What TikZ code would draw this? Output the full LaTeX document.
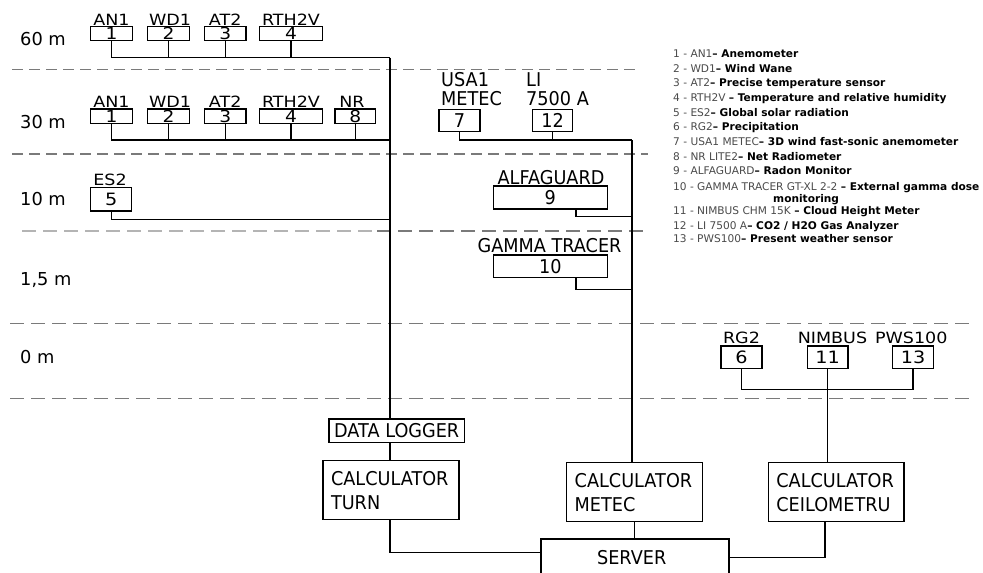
\documentclass[tikz,border=0pt]{standalone}
\usepackage{fontspec}
\setmainfont{DejaVu Sans}
\newfontfamily\nf{DejaVu Sans}[FakeStretch=0.93]
\newfontfamily\wf{DejaVu Sans}[FakeStretch=1.13]
\definecolor{lg}{HTML}{4A4A4A}
\definecolor{dashgray}{HTML}{7A7A7A}
\definecolor{dashlight}{HTML}{B4B4B4}
\begin{document}
\begin{tikzpicture}[x=1pt,y=-1pt,
  box/.style={draw, line width=1.3pt, inner sep=0pt},
  wire/.style={line width=1.3pt},
  sepa/.style={draw=dashgray, line width=1.3pt, dash pattern=on 11pt off 6pt},
  sepb/.style={draw=dashgray, line width=1.3pt, dash pattern=on 14pt off 7pt},
  lvl/.style={anchor=base west, inner sep=0pt, font=\fontsize{17.8}{20}\selectfont},
  tl/.style={anchor=base, inner sep=0pt, font=\wf\fontsize{15.5}{17}\selectfont},
  tbox/.style={box, font=\wf\fontsize{16.5}{17}\selectfont},
  gbox/.style={box, font=\wf\fontsize{17}{19}\selectfont},
  rl/.style={inner sep=0pt, font=\nf\fontsize{19}{22}\selectfont},
  rbox/.style={box, font=\nf\fontsize{19}{22}\selectfont},
  calcbox/.style={box, font=\nf\fontsize{19}{24}\selectfont, align=left, inner xsep=8pt, inner ysep=0pt, minimum height=59pt},
  leg/.style={anchor=base west, inner sep=0pt, font=\fontsize{10.6}{12}\selectfont}
]
\useasboundingbox (0,0) rectangle (983,573);
\clip (0,0) rectangle (983,573);

% separators
\draw[sepa] (12,69.3) -- (640,69.3);
\draw[sepa] (12,154) -- (648,154);
\draw[sepb, draw=dashlight] (22,231) -- (377,231);
\draw[sepb] (377,231) -- (648,231);
\draw[sepb] (10,323.5) -- (975,323.5);
\draw[sepb] (10,398.5) -- (975,398.5);

% level labels
\node[lvl] (l60) at (20,45) {60 m};
\node[lvl] (l30) at (20,128) {30 m};
\node[lvl] (l10) at (20,205.7) {10 m};
\node[lvl] (l15) at (20,285) {1,5 m};
\node[lvl] (l0) at (20,363) {0 m};

% 60 m row
\node[tbox, minimum width=41.6pt, minimum height=14pt] (a1) at (111.5,33.7) {1};
\node[tbox, minimum width=41.6pt, minimum height=14pt] (a2) at (168.5,33.7) {2};
\node[tbox, minimum width=41.7pt, minimum height=14pt] (a3) at (225.2,33.7) {3};
\node[tbox, minimum width=63.4pt, minimum height=14pt] (a4) at (291,33.7) {4};
\node[tl] (ta1) at (111.5,25) {AN1};
\node[tl] (ta2) at (170,25) {WD1};
\node[tl] (ta3) at (225.2,25) {AT2};
\node[tl] (ta4) at (291,25) {RTH2V};

% 30 m row
\node[tbox, minimum width=41.6pt, minimum height=14.3pt] (b1) at (111.5,116.2) {1};
\node[tbox, minimum width=41.6pt, minimum height=14.3pt] (b2) at (168.5,116.2) {2};
\node[tbox, minimum width=41.7pt, minimum height=14.3pt] (b3) at (225.2,116.2) {3};
\node[tbox, minimum width=63.4pt, minimum height=14.3pt] (b4) at (291,116.2) {4};
\node[tbox, minimum width=40.7pt, minimum height=14.3pt] (b8) at (355.3,116.2) {8};
\node[tl] (tb1) at (111.5,107.3) {AN1};
\node[tl] (tb2) at (170,107.3) {WD1};
\node[tl] (tb3) at (225.2,107.3) {AT2};
\node[tl] (tb4) at (291,107.3) {RTH2V};
\node[tl] (tb8) at (352,107.3) {NR};

% 10 m
\node[gbox, minimum width=41pt, minimum height=23.3pt] (e5) at (111.2,199.3) {5};
\node[tl] (te5) at (110,185) {ES2};

% right column
\node[rbox, minimum width=41pt, minimum height=22.4pt] (u7) at (459.5,120.5) {7};
\node[rbox, minimum width=40.4pt, minimum height=22.4pt] (u12) at (552.5,120.5) {12};
\node[rl, anchor=base west] (t7a) at (441,86.7) {USA1};
\node[rl, anchor=base west] (t7b) at (441,105) {METEC};
\node[rl, anchor=base west] (t12a) at (526,86.7) {LI};
\node[rl, anchor=base west] (t12b) at (526,105) {7500 A};
\node[rbox, minimum width=114pt, minimum height=23pt] (g9) at (550.3,197.5) {9};
\node[rl, anchor=base] (t9) at (551,184) {ALFAGUARD};
\node[rbox, minimum width=114pt, minimum height=22.3pt] (g10) at (550.3,266.2) {10};
\node[rl, anchor=base] (t10) at (549.5,252.7) {GAMMA TRACER};

% ground
\node[gbox, minimum width=41pt, minimum height=22.7pt] (m6) at (741.5,357.3) {6};
\node[gbox, minimum width=40.7pt, minimum height=22.7pt] (m11) at (827.7,357.3) {11};
\node[gbox, minimum width=40.6pt, minimum height=22.7pt] (m13) at (913,357.3) {13};
\node[tl] (t6) at (741.5,343.3) {RG2};
\node[tl] (t11) at (832.5,343.3) {NIMBUS};
\node[tl] (t13) at (911.3,343.3) {PWS100};

% bottom
\node[box, font=\nf\fontsize{19}{22}\selectfont, minimum width=135.3pt, minimum height=23.7pt] (dl) at (396.7,430.8) {DATA LOGGER};
\node[calcbox, text width=120pt] (ct) at (391,490.2) {CALCULATOR\\TURN};
\node[calcbox, text width=119.6pt] (cm) at (634.5,492.2) {CALCULATOR\\METEC};
\node[calcbox, text width=119.7pt] (cc) at (836.2,492.2) {CALCULATOR\\CEILOMETRU};
\node[box, minimum width=188pt, minimum height=70pt, anchor=north] (srv) at (635,538.3) {};
\node[rl, anchor=base] (srvt) at (631.7,564) {SERVER};

% junction coordinates
\coordinate (h60) at (390,57.7);
\coordinate (h30) at (390,140);
\coordinate (h10) at (390,219.3);
\coordinate (r30) at (632,140);
\coordinate (r10) at (632,216.7);
\coordinate (r15) at (632,289.3);
\coordinate (g0) at (826.7,389.3);
\coordinate (sl) at (541,552.7);
\coordinate (sr) at (729,557.7);

% connectors left trunk
\draw[wire] (a1.south) |- (h60);
\foreach \n in {a2,a3,a4} \draw[wire] (\n.south) -- (\n.south |- h60);
\draw[wire] (b1.south) |- (h30);
\foreach \n in {b2,b3,b4,b8} \draw[wire] (\n.south) -- (\n.south |- h30);
\draw[wire] (e5.south) |- (h10);
\draw[wire] (h60) -- (h60 |- dl.north);
\draw[wire] (h60 |- dl.south) -- (h60 |- ct.north);
\draw[wire] (h60 |- ct.south) |- (sl);

% right trunk
\draw[wire] (u7.south) |- (r30);
\draw[wire] (u12.south) -- (u12.south |- r30);
\draw[wire] ([xshift=25.7pt]g9.south) |- (r10);
\draw[wire] ([xshift=25.7pt]g10.south) |- (r15);
\draw[wire] (r30) -- (r30 |- cm.north);
\draw[wire] (cm.south) -- (cm.south |- srv.north);

% ground trunk
\draw[wire] (m6.south) |- (g0);
\draw[wire] (m13.south) |- (g0);
\draw[wire] (m11.south) -- (m11.south |- cc.north);
\draw[wire] ([xshift=-11.2pt]cc.south) |- (sr);

% legend
\node[leg] (k1) at (673,57.7) {\textcolor{lg}{1 - AN1}\textbf{– Anemometer}};
\node[leg] (k2) at (673,72.3) {\textcolor{lg}{2 - WD1}\textbf{– Wind Wane}};
\node[leg] (k3) at (673,86.9) {\textcolor{lg}{3 - AT2}\textbf{– Precise temperature sensor}};
\node[leg] (k4) at (673,101.5) {\textcolor{lg}{4 - RTH2V }\textbf{– Temperature and relative humidity}};
\node[leg] (k5) at (673,116.1) {\textcolor{lg}{5 - ES2}\textbf{– Global solar radiation}};
\node[leg] (k6) at (673,130.7) {\textcolor{lg}{6 - RG2}\textbf{– Precipitation}};
\node[leg] (k7) at (673,145.3) {\textcolor{lg}{7 - USA1 METEC}\textbf{– 3D wind fast-sonic anemometer}};
\node[leg] (k8) at (673,160.4) {\textcolor{lg}{8 - NR LITE2}\textbf{– Net Radiometer}};
\node[leg] (k9) at (673,174.4) {\textcolor{lg}{9 - ALFAGUARD}\textbf{– Radon Monitor}};
\node[leg] (k10) at (673,190.2) {\textcolor{lg}{10 - GAMMA TRACER GT-XL 2-2 }\textbf{– External gamma dose}};
\node[leg] (k10b) at (773,202) {\textbf{monitoring}};
\node[leg] (k11) at (673,214.4) {\textcolor{lg}{11 - NIMBUS CHM 15K }\textbf{– Cloud Height Meter}};
\node[leg] (k12) at (673,229.7) {\textcolor{lg}{12 - LI 7500 A}\textbf{– CO2 / H2O Gas Analyzer}};
\node[leg] (k13) at (673,242) {\textcolor{lg}{13 - PWS100}\textbf{– Present weather sensor}};
\end{tikzpicture}
\end{document}
